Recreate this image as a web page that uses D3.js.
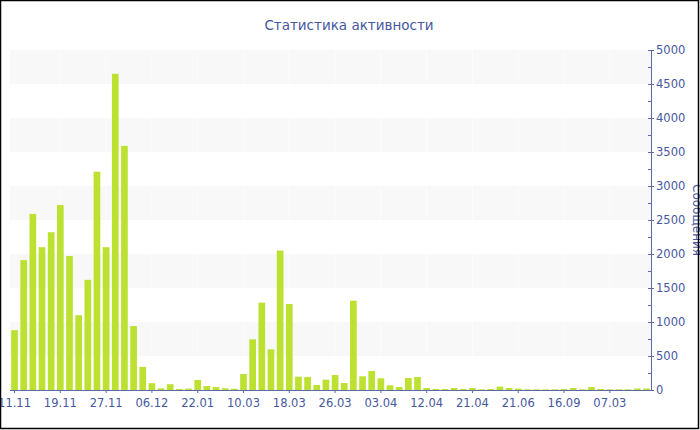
<!DOCTYPE html>
<html>
<head>
<meta charset="utf-8">
<script src="https://cdn.jsdelivr.net/npm/d3@7"></script>
<style>
  body { margin: 0; background: #fff; }
  svg { display: block; font-family: "DejaVu Sans", Verdana, sans-serif; }
</style>
</head>
<body>
<div id="vis"></div>
<script>
// dates (only every 5th one is shown on the axis)
const DATES = [
  "11.11", "12.11", "13.11", "15.11", "17.11", "19.11", "20.11", "22.11", "24.11", "25.11",
  "27.11", "28.11", "29.11", "01.12", "03.12", "06.12", "12.12", "19.12", "27.12", "10.01",
  "22.01", "03.02", "14.02", "24.02", "04.03", "10.03", "12.03", "13.03", "15.03", "16.03",
  "18.03", "19.03", "21.03", "22.03", "24.03", "26.03", "27.03", "29.03", "30.03", "01.04",
  "03.04", "05.04", "07.04", "09.04", "10.04", "12.04", "14.04", "16.04", "17.04", "19.04",
  "21.04", "02.05", "15.05", "27.05", "08.06", "21.06", "10.07", "29.07", "17.08", "31.08",
  "16.09", "14.10", "09.11", "20.12", "05.02", "07.03", "14.05", "02.07", "19.08", "30.09"
];

// messages per date
const MESSAGES = [
  880, 1910, 2590, 2100, 2320, 2720, 1970, 1100, 1620, 3210,
  2100, 4650, 3590, 940, 340, 100, 25, 85, 15, 20,
  147, 59, 44, 25, 18, 235, 745, 1285, 598, 2050,
  1265, 196, 192, 74, 152, 220, 103, 1314, 201, 279,
  172, 69, 44, 176, 191, 29, 15, 15, 29, 15,
  29, 10, 15, 50, 29, 20, 10, 10, 10, 10,
  15, 29, 10, 44, 15, 10, 10, 10, 22, 22
];

const Y_TICKS = [0, 500, 1000, 1500, 2000, 2500, 3000, 3500, 4000, 4500, 5000];

const TITLE = "Статистика активности";
const Y_TITLE = "Сообщения";

// frame
const FRAME_WIDTH = 700;
const FRAME_HEIGHT = 430;
const PLOT = {left: 10, right: 651, top: 50, bottom: 390};
const BLUE = "#5a6aa8";
const TEXT = "#4658a0";

const svg = d3.select("#vis")
  .append("svg")
  .attr("width", FRAME_WIDTH)
  .attr("height", FRAME_HEIGHT);

// scales
const X_SCALE = d3.scaleBand()
  .domain(DATES)
  .range([PLOT.left, PLOT.right])
  .paddingInner(0.27)
  .paddingOuter(0.13);

const Y_SCALE = d3.scaleLinear()
  .domain([0, 5000])
  .range([PLOT.bottom, PLOT.top]);

// alternating grey bands
const bands = d3.range(500, 5000, 1000);
svg.selectAll(".band")
  .data(bands)
  .enter()
  .append("rect")
    .attr("x", PLOT.left)
    .attr("width", PLOT.right - PLOT.left)
    .attr("y", (d) => Y_SCALE(d + 500))
    .attr("height", (d) => Y_SCALE(d) - Y_SCALE(d + 500))
    .attr("fill", "#f8f8f8");

// faint vertical grid lines at tick positions
const tickDates = DATES.filter((d, i) => i % 5 === 0);
svg.selectAll(".vgrid")
  .data(tickDates)
  .enter()
  .append("line")
    .attr("x1", (d) => X_SCALE(d) + X_SCALE.bandwidth() / 2)
    .attr("x2", (d) => X_SCALE(d) + X_SCALE.bandwidth() / 2)
    .attr("y1", PLOT.top)
    .attr("y2", PLOT.bottom)
    .attr("stroke", "#fff")
    .attr("stroke-opacity", 0.6);

// bars
svg.selectAll(".bar")
  .data(MESSAGES)
  .enter()
  .append("rect")
    .attr("x", (d, i) => X_SCALE(DATES[i]))
    .attr("width", X_SCALE.bandwidth())
    .attr("y", (d) => Y_SCALE(d))
    .attr("height", (d) => PLOT.bottom - Y_SCALE(d))
    .attr("fill", "#bce131");

// x axis
const xAxis = svg.append("g")
  .attr("transform", "translate(0," + PLOT.bottom + ")")
  .call(d3.axisBottom(X_SCALE).tickValues(tickDates).tickSize(3).tickSizeOuter(0));
xAxis.select(".domain").attr("stroke", BLUE).attr("d", "M" + PLOT.left + ",0.5H" + PLOT.right);
xAxis.selectAll(".tick line").attr("stroke", BLUE);
xAxis.selectAll(".tick text")
  .attr("fill", TEXT)
  .attr("font-size", "11.5px")
  .attr("font-family", "DejaVu Sans, Verdana, sans-serif")
  .attr("dy", "0.95em");

// right y axis
const yAxis = svg.append("g")
  .attr("transform", "translate(" + PLOT.right + ",0)")
  .call(d3.axisRight(Y_SCALE).tickValues(Y_TICKS).tickFormat(d3.format("d"))
    .tickSize(3).tickSizeOuter(0).tickPadding(2));
yAxis.select(".domain").attr("stroke", BLUE);
yAxis.selectAll(".tick line").attr("stroke", BLUE).attr("x1", -3);
yAxis.selectAll(".tick text")
  .attr("fill", TEXT)
  .attr("font-size", "11.5px")
  .attr("font-family", "DejaVu Sans, Verdana, sans-serif");

// minor ticks between majors
svg.append("g")
  .selectAll("line")
  .data(d3.range(250, 5000, 500))
  .enter()
  .append("line")
    .attr("x1", PLOT.right - 3)
    .attr("x2", PLOT.right)
    .attr("y1", (d) => Math.round(Y_SCALE(d)) + 0.5)
    .attr("y2", (d) => Math.round(Y_SCALE(d)) + 0.5)
    .attr("stroke", BLUE);

// titles
svg.append("text")
  .attr("x", 349)
  .attr("y", 30)
  .attr("text-anchor", "middle")
  .attr("fill", TEXT)
  .attr("font-size", "13.5px")
  .text(TITLE);

svg.append("text")
  .attr("transform", "translate(693,220) rotate(90)")
  .attr("text-anchor", "middle")
  .attr("fill", TEXT)
  .attr("font-size", "12px")
  .text(Y_TITLE);

// outer border
svg.append("rect")
  .attr("x", 0.5)
  .attr("y", 0.5)
  .attr("width", FRAME_WIDTH - 2)
  .attr("height", FRAME_HEIGHT - 2)
  .attr("fill", "none")
  .attr("stroke", "#000")
  .attr("stroke-width", 1.5);
</script>
</body>
</html>
